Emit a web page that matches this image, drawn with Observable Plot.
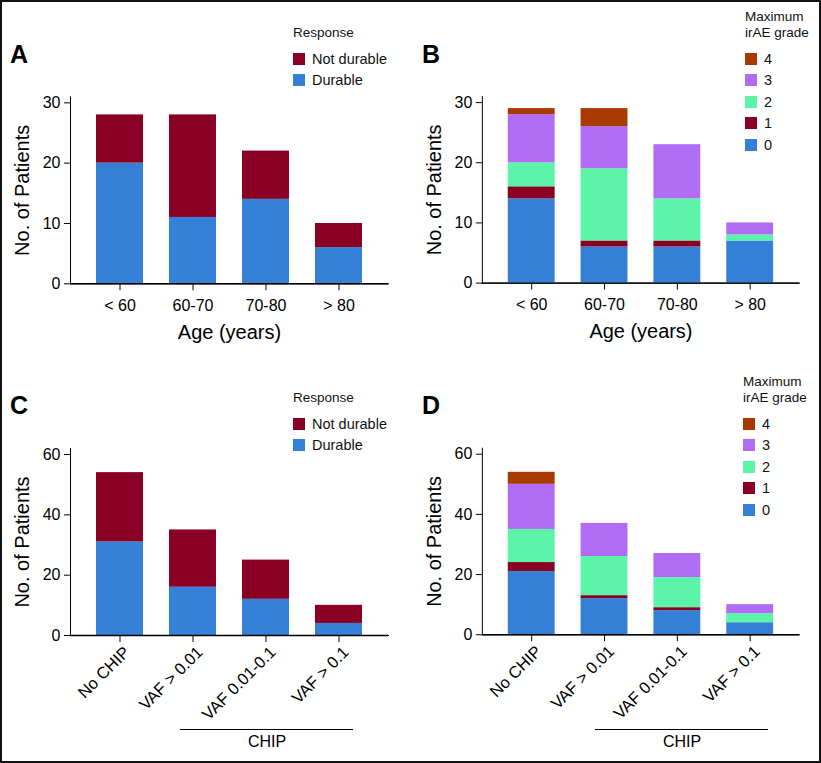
<!DOCTYPE html>
<html><head><meta charset="utf-8">
<script src="https://cdn.jsdelivr.net/npm/d3@7"></script>
<script src="https://cdn.jsdelivr.net/npm/@observablehq/plot@0.6"></script>
<style>
body{margin:0;background:#fff;}
#page{position:relative;width:821px;height:763px;overflow:hidden;font-family:"Liberation Sans",Arial,sans-serif;background:#fff;}
.frame{position:absolute;left:0;top:0;width:821px;height:763px;box-sizing:border-box;border:2px solid #111;pointer-events:none;}
.abs{position:absolute;}
.letter{font-weight:bold;font-size:25px;line-height:25px;color:#000;}
.legt{font-size:13.5px;line-height:16px;color:#111;white-space:nowrap;}
.sw{width:12px;height:12px;}
.ll{font-size:14.5px;line-height:16px;color:#111;white-space:nowrap;}
.chip{font-size:16px;line-height:18px;color:#000;text-align:center;width:100px;}
.bline{height:0;border-top:1.2px solid #000;}
</style></head><body><div id="page"></div><script>
// ---- data ----
const ageGroups = ["< 60", "60-70", "70-80", "> 80"];
const chipGroups = ["No CHIP", "VAF > 0.01", "VAF 0.01-0.1", "VAF > 0.1"];
const responseSeries = ["Durable", "Not durable"];
const gradeSeries = ["0", "1", "2", "3", "4"];

const ageDurable = [20, 11, 14, 6];
const ageNotDurable = [8, 17, 8, 4];

const ageGrade0 = [14, 6, 6, 7];
const ageGrade1 = [2, 1, 1, 0];
const ageGrade2 = [4, 12, 7, 1];
const ageGrade3 = [8, 7, 9, 2];
const ageGrade4 = [1, 3, 0, 0];

const chipDurable = [31, 16, 12, 4];
const chipNotDurable = [23, 19, 13, 6];

const chipGrade0 = [21, 12, 8, 4];
const chipGrade1 = [3, 1, 1, 0];
const chipGrade2 = [11, 13, 10, 3];
const chipGrade3 = [15, 11, 8, 3];
const chipGrade4 = [4, 0, 0, 0];

const responseColors = ["#3480d6", "#890024"];
const gradeColors = ["#3480d6", "#890024", "#5cf4a8", "#b06cf5", "#a83a00"];

const page = document.getElementById("page");

function el(cls, left, top, html, style) {
  const d = document.createElement("div");
  d.className = "abs " + cls;
  d.style.left = left + "px";
  d.style.top = top + "px";
  if (style) Object.assign(d.style, style);
  if (html != null) d.innerHTML = html;
  page.appendChild(d);
  return d;
}

function panel(o) {
  const rows = o.series.flatMap((s, i) => o.groups.map((g, j) => ({group: g, series: s, value: o.values[i][j]})));
  const marks = [
    Plot.barY(rows, {x: "group", y: "value", fill: "series", order: o.series}),
    Plot.ruleY([0], {strokeWidth: 1.4}),
    Plot.text(["No. of Patients"], {text: d => d, frameAnchor: "left", textAnchor: "middle", lineAnchor: "middle", rotate: -90, dx: -48, fontSize: 20})
  ];
  if (o.xTitle) marks.push(Plot.text([o.xTitle], {text: d => d, frameAnchor: "bottom", lineAnchor: "middle", dy: 49, fontSize: 20}));
  if (o.rotate) marks.push(Plot.text(o.groups, {x: d => d, text: d => d, frameAnchor: "bottom", rotate: o.rotate, textAnchor: "end", lineAnchor: "middle", dx: 7, dy: 14, fontSize: 16.5}));
  const svg = Plot.plot({
    width: 410,
    height: o.height,
    marginLeft: 70,
    marginRight: 22,
    marginTop: o.marginTop,
    marginBottom: o.marginBottom,
    style: {fontFamily: '"Liberation Sans", Arial, sans-serif', fontSize: "16px", color: "#000", background: "transparent", overflow: "visible"},
    x: {domain: o.groups, paddingInner: 0.36, paddingOuter: 0.34, label: null, tickSize: 7, tickPadding: 9, line: true,
        tickFormat: o.rotate ? () => "" : undefined},
    y: {domain: [0, o.yMax], ticks: 3, label: null, tickSize: 6, tickPadding: 4, line: true},
    color: {domain: o.series, range: o.colors},
    marks
  });
  const wrap = el("", o.left, o.top, null);
  wrap.appendChild(svg);
}

function legend(left, top, titleLines, series, colors) {
  el("legt", left, top, titleLines.join("<br>"));
  const t0 = top + (titleLines.length === 1 ? 28 : 44);
  const items = series.map((s, i) => ({s, c: colors[i]})).reverse();
  items.forEach((it, k) => {
    const y = t0 + k * 21.4;
    el("sw", left, y, null, {background: it.c});
    el("ll", left + 19, y - 2, it.s);
  });
}

// Panel A
panel({groups: ageGroups, series: responseSeries, colors: responseColors,
  values: [ageDurable, ageNotDurable], left: 0, top: 0, height: 345,
  marginTop: 96.3, marginBottom: 345 - 283.3, yMax: 31, xTitle: "Age (years)"});
// Panel B
panel({groups: ageGroups, series: gradeSeries, colors: gradeColors,
  values: [ageGrade0, ageGrade1, ageGrade2, ageGrade3, ageGrade4], left: 412, top: 0, height: 345,
  marginTop: 96.3, marginBottom: 345 - 283.3, yMax: 31, xTitle: "Age (years)"});
// Panel C
panel({groups: chipGroups, series: responseSeries, colors: responseColors,
  values: [chipDurable, chipNotDurable], left: 0, top: 330, height: 420,
  marginTop: 118, marginBottom: 115, yMax: 62, rotate: -45});
// Panel D
panel({groups: chipGroups, series: gradeSeries, colors: gradeColors,
  values: [chipGrade0, chipGrade1, chipGrade2, chipGrade3, chipGrade4], left: 412, top: 330, height: 420,
  marginTop: 118, marginBottom: 115, yMax: 62, rotate: -45});

// Letters
el("letter", 10, 42, "A");
el("letter", 422, 42, "B");
el("letter", 10, 393, "C");
el("letter", 422, 393, "D");

// Legends
legend(293, 25, ["Response"], responseSeries, responseColors);
legend(745, 9, ["Maximum", "irAE grade"], gradeSeries, gradeColors);
legend(293, 390, ["Response"], responseSeries, responseColors);
legend(743, 374, ["Maximum", "irAE grade"], gradeSeries, gradeColors);

// CHIP brackets
el("bline", 180, 729, null, {width: "173px"});
el("chip", 217, 733, "CHIP");
el("bline", 595, 729, null, {width: "173px"});
el("chip", 632, 733, "CHIP");

const fr = document.createElement("div");
fr.className = "frame";
page.appendChild(fr);
</script></body></html>
